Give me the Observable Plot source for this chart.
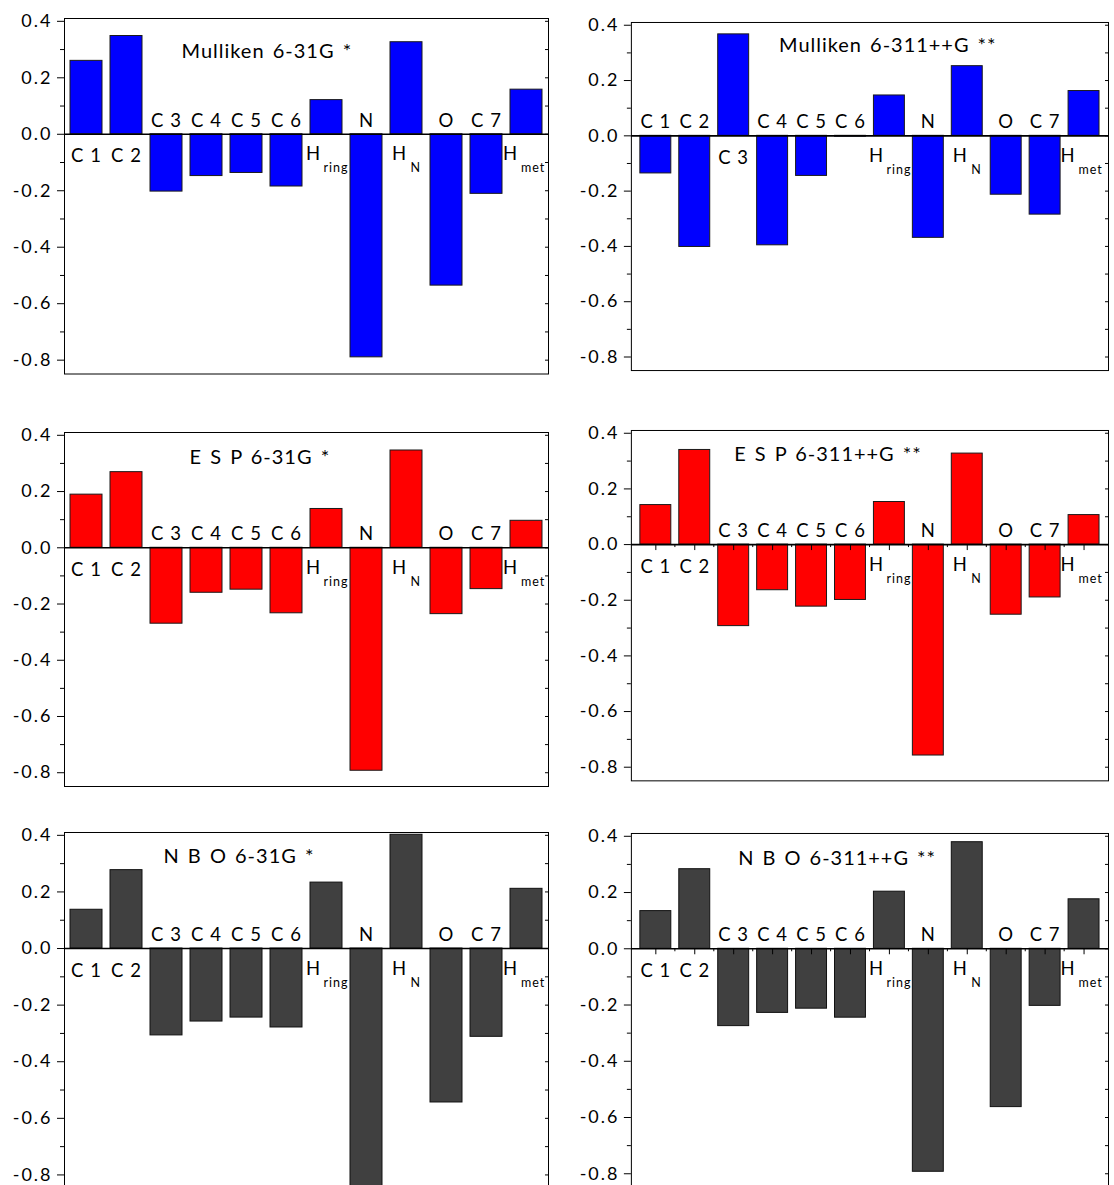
<!DOCTYPE html>
<html><head><meta charset="utf-8">
<script src="https://cdn.jsdelivr.net/npm/d3@7"></script>
<script src="https://cdn.jsdelivr.net/npm/@observablehq/plot@0.6"></script>
<style>
html,body{margin:0;padding:0;background:#fff;overflow:hidden;width:1114px;height:1185px;}
#root{position:relative;width:1114px;height:1185px;overflow:hidden;background:#fff;}
.panel{position:absolute;}
.panel svg{overflow:visible;}
.panel svg text{white-space:pre;letter-spacing:1px;}
.panel svg g[font-size="20"] text{word-spacing:2px;}
.panel svg g[aria-label="y-axis tick label"] text{letter-spacing:2px;}
</style></head><body><div id="root"></div>
<script>
// ---- data ----
const atoms = ["C1","C2","C3","C4","C5","C6","Hring","N","HN","O","C7","Hmet"];
const labelMain = ["C 1","C 2","C 3","C 4","C 5","C 6","H","N","H","O","C 7","H"];
const labelSub = ["","","","","","","ring","","N","","","met"];
const mulliken631  = [0.260, 0.348,-0.203,-0.148,-0.137,-0.185, 0.121,-0.790, 0.326,-0.536,-0.211, 0.158];
const mulliken6311 = [-0.136,-0.402, 0.367,-0.396,-0.145,-0.003, 0.146,-0.369, 0.252,-0.213,-0.285, 0.162];
const esp631       = [0.189, 0.269,-0.270,-0.160,-0.149,-0.233, 0.138,-0.793, 0.346,-0.236,-0.147, 0.096];
const esp6311      = [0.142, 0.340,-0.293,-0.164,-0.223,-0.199, 0.153,-0.758, 0.327,-0.252,-0.190, 0.106];
const nbo631       = [0.137, 0.277,-0.307,-0.258,-0.244,-0.279, 0.233,-0.870, 0.402,-0.544,-0.312, 0.211];
const nbo6311      = [0.134, 0.283,-0.275,-0.228,-0.213,-0.245, 0.203,-0.793, 0.379,-0.563,-0.203, 0.176];
const titles = ["Mulliken 6-31G *","Mulliken 6-311++G **","E S P 6-31G *","E S P 6-311++G **","N B O 6-31G *","N B O 6-311++G **"];
const majorTicks = [-0.8,-0.6,-0.4,-0.2,0,0.2,0.4];
const minorTicks = [-0.7,-0.5,-0.3,-0.1,0.1,0.3];
const yDomain = [-0.849, 0.41];

// ---- layout / style ----
const subOffsets = {ring: [-13, -3], N: [-7, 4], met: [-16, -5.5]};
const panels = [
  {values: mulliken631,  title: titles[0], svgLeft: 0,   left: 64,  right: 548,  top: 17.8,  bottom: 373.3, fill: "#0000ff", stroke: "#1a1a1a", tdx: 117, tdy: 39,  zeroTicks: false},
  {values: mulliken6311, title: titles[1], svgLeft: 560, left: 631, right: 1109, top: 22.3,  bottom: 371,   fill: "#0000ff", stroke: "#1a1a1a", tdx: 148, tdy: 30,  zeroTicks: false},
  {values: esp631,       title: titles[2], svgLeft: 0,   left: 64,  right: 548,  top: 431.7, bottom: 785.7, fill: "#ff0000", stroke: "#1a1a1a", tdx: 125, tdy: 31,  zeroTicks: false},
  {values: esp6311,      title: titles[3], svgLeft: 560, left: 631, right: 1109, top: 430,   bottom: 781,   fill: "#ff0000", stroke: "#1a1a1a", tdx: 103, tdy: 31,  zeroTicks: true},
  {values: nbo631,       title: titles[4], svgLeft: 0,   left: 64,  right: 548,  top: 832.3, bottom: 1188.6,fill: "#404040", stroke: "#111111", tdx: 99,  tdy: 31,  zeroTicks: false},
  {values: nbo6311,      title: titles[5], svgLeft: 560, left: 631, right: 1109, top: 833.3, bottom: 1188,  fill: "#404040", stroke: "#111111", tdx: 107, tdy: 31.5,zeroTicks: true}
];

const root = document.getElementById("root");
const M = 10, MR = 6;

for (const cfg of panels) {
  const rows = atoms.map((a, i) => ({atom: a, main: labelMain[i], sub: labelSub[i], value: cfg.values[i]}));
  const step = (cfg.right - cfg.left) / 12;
  const marks = [
    Plot.barY(rows, {x: "atom", y: "value", fill: cfg.fill, stroke: cfg.stroke, strokeWidth: 1}),
    Plot.ruleY([0], {stroke: "black", strokeWidth: 1.6}),
    Plot.frame({stroke: "black", strokeWidth: 1}),
    Plot.axisY(majorTicks, {tickSize: 7, tickPadding: 5, tickFormat: d => d.toFixed(1), fontSize: 18, label: null}),
    Plot.axisY(minorTicks, {tickSize: 4, tickFormat: () => "", label: null}),
    Plot.axisY(majorTicks.concat(minorTicks), {anchor: "right", tickSize: 4, dx: -4, tickFormat: () => "", label: null}),
    Plot.text([cfg.title], {frameAnchor: "top-left", dx: cfg.tdx, dy: cfg.tdy, textAnchor: "start", lineAnchor: "bottom", fontSize: 20})
  ];
  for (const pos of [true, false]) {
    const dy = pos ? 28 : -7.5;
    const sel = d => (d.value >= 0) === pos;
    marks.push(Plot.text(rows, {filter: d => sel(d) && !d.sub, x: "atom", y: () => 0, text: "main", lineAnchor: "bottom", dy, fontSize: 18.5}));
    for (const [sub, [hdx, sdx]] of Object.entries(subOffsets)) {
      const hdy = pos ? 26 : -7.5;
      marks.push(Plot.text(rows, {filter: d => sel(d) && d.sub === sub, x: "atom", y: () => 0, text: "main", textAnchor: "middle", dx: hdx, dy: hdy, lineAnchor: "bottom", fontSize: 18.5}));
      marks.push(Plot.text(rows, {filter: d => sel(d) && d.sub === sub, x: "atom", y: () => 0, text: "sub", textAnchor: "start", dx: sdx, dy: hdy + 12, lineAnchor: "bottom", fontSize: 12.5}));
    }
  }
  if (cfg.zeroTicks) {
    marks.push(Plot.ruleX(rows, {x: "atom", y1: 0, y2: 0, insetTop: 0, insetBottom: -6, stroke: "black", strokeWidth: 1}));
    marks.push(Plot.ruleX(rows.slice(1), {x: "atom", y1: 0, y2: 0, insetTop: 0, insetBottom: -3, dx: -step / 2, stroke: "black", strokeWidth: 1}));
  }
  const height = (cfg.bottom - cfg.top) + 2 * M;
  const width = cfg.right - cfg.svgLeft + MR;
  const chart = Plot.plot({
    width, height,
    marginLeft: cfg.left - cfg.svgLeft, marginRight: MR, marginTop: M, marginBottom: M,
    style: {fontFamily: "Lato, sans-serif", fontSize: "18px", color: "black", background: "transparent", overflow: "visible"},
    x: {domain: atoms, paddingInner: 0.2, paddingOuter: 0.1, axis: null},
    y: {domain: yDomain, label: null},
    marks
  });
  const div = document.createElement("div");
  div.className = "panel";
  div.style.left = cfg.svgLeft + "px";
  div.style.top = (cfg.top - M) + "px";
  div.appendChild(chart);
  root.appendChild(div);
}
</script>
</body></html>
